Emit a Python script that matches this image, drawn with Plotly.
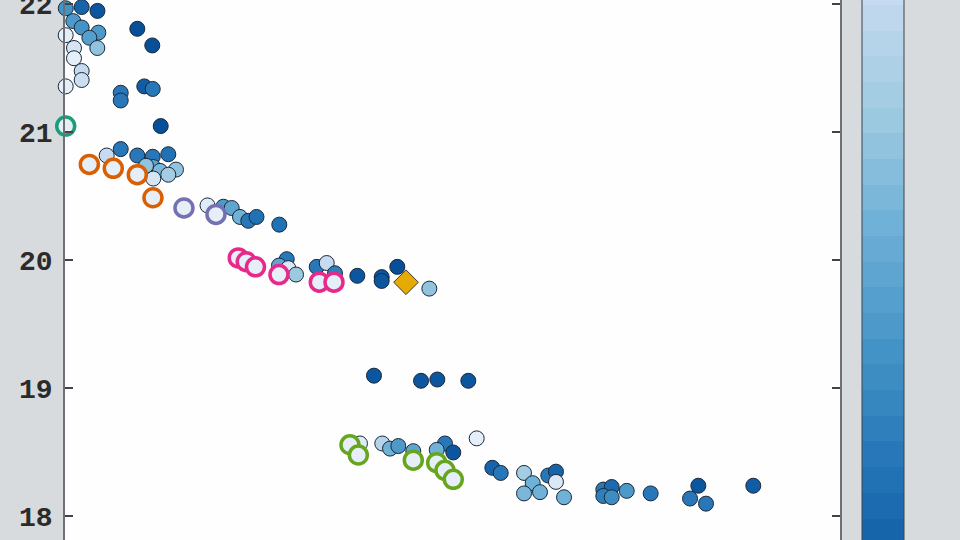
import plotly.graph_objects as go
from plotly.colors import sample_colorscale

# ---- data (x: arbitrary horizontal units 0-100, y: value) ----
pts_x = [0.1, 2.15, 4.19, 1.29, 3.23, 1.07, 2.15, 4.30, 3.14, 0.09,
         1.16, 4.17, 1.16, 2.15, 2.15, 0.09, 9.33, 11.26, 7.19, 7.19,
         10.23, 11.32, 12.35, 5.38, 7.19, 9.33, 11.32, 13.33, 11.39, 12.26,
         14.32, 13.33, 11.39, 10.45, 18.39, 20.43, 21.51, 22.58, 23.65, 24.71,
         27.65, 28.61, 27.61, 28.81, 29.81, 32.48, 33.77, 34.84, 37.72, 40.86,
         40.86, 42.88, 47.01, 39.87, 45.94, 48.04, 52.04, 53.12, 38.06, 40.94,
         41.94, 43.01, 44.94, 49.03, 50.10, 47.96, 55.14, 56.22, 59.23, 60.35,
         59.23, 61.29, 62.36, 63.35, 63.35, 64.39, 69.46, 70.54, 69.46, 70.54,
         72.48, 75.57, 81.72, 80.65, 82.71, 88.81, 63.35, 70.54, 72.48, 79.57]
pts_y = [21.97, 21.98, 21.95, 22.06, 22.07, 21.87, 21.82, 21.78, 21.74, 21.76,
         21.66, 21.66, 21.58, 21.48, 21.41, 21.36, 21.81, 21.68, 21.31, 21.25,
         21.36, 21.34, 21.05, 20.82, 20.87, 20.82, 20.81, 20.83, 20.73, 20.70,
         20.71, 20.67, 20.64, 20.74, 20.43, 20.42, 20.41, 20.34, 20.31, 20.34,
         20.28, 20.01, 19.96, 19.94, 19.89, 19.95, 19.98, 19.90, 19.88, 19.87,
         19.84, 19.95, 19.78, 19.10, 19.06, 19.07, 19.06, 18.61, 18.57, 18.57,
         18.53, 18.55, 18.51, 18.57, 18.50, 18.52, 18.38, 18.34, 18.34, 18.26,
         18.18, 18.19, 18.32, 18.35, 18.27, 18.15, 18.21, 18.23, 18.16, 18.15,
         18.20, 18.18, 18.24, 18.14, 18.10, 18.24, 17.75, 17.75, 17.77, 17.74]
# colour value (high = light)
pts_v = [0.39, 0.21, 0.14, 0.21, 0.14, 0.40, 0.37, 0.40, 0.43, 0.90,
         0.82, 0.60, 0.90, 0.75, 0.78, 0.92, 0.11, 0.11, 0.28, 0.28,
         0.16, 0.28, 0.11, 0.75, 0.28, 0.27, 0.27, 0.24, 0.47, 0.55,
         0.60, 0.65, 0.83, 0.60, 0.88, 0.40, 0.45, 0.50, 0.28, 0.26,
         0.24, 0.27, 0.45, 0.85, 0.62, 0.28, 0.75, 0.30, 0.14, 0.14,
         0.14, 0.11, 0.58, 0.14, 0.14, 0.14, 0.14, 0.90, 0.88, 0.70,
         0.50, 0.40, 0.45, 0.28, 0.14, 0.50, 0.20, 0.27, 0.65, 0.50,
         0.55, 0.50, 0.28, 0.21, 0.85, 0.50, 0.27, 0.23, 0.30, 0.36,
         0.40, 0.27, 0.14, 0.28, 0.28, 0.18, 0.85, 0.40, 0.45, 0.30]

groups = ["A", "B", "C", "D", "E"]
group_colors = ["#1b9e77", "#d95f02", "#7570b3", "#e7298a", "#66a61e"]
ring_x = [[0.09],
          [3.14, 6.23, 9.33, 11.35],
          [15.35, 19.48],
          [22.36, 23.39, 24.58, 27.61, 32.81, 34.71],
          [36.77, 37.85, 44.94, 47.96, 49.03, 50.10]]
ring_y = [[21.05],
          [20.75, 20.72, 20.67, 20.49],
          [20.41, 20.36],
          [20.02, 19.99, 19.95, 19.89, 19.83, 19.83],
          [18.56, 18.48, 18.44, 18.42, 18.36, 18.29]]
star_x = [44.0]
star_y = [19.83]

y_ticks = [18, 19, 20, 21, 22]

# ---- stepped colour scale ----
N = 38
cols = sample_colorscale("Blues", [1 - (i + 0.5) / N for i in range(N)])
cscale = []
for i, c in enumerate(cols):
    cscale.append([i / N, c])
    cscale.append([(i + 1) / N, c])

fig = go.Figure()
fig.add_trace(go.Scatter(
    x=pts_x, y=pts_y, mode="markers", cliponaxis=False, showlegend=False,
    marker=dict(size=15, color=pts_v, cmin=0, cmax=1, colorscale=cscale,
                line=dict(color="#1b2838", width=1),
                colorbar=dict(thickness=42, thicknessmode="pixels",
                              len=976, lenmode="pixels",
                              x=1.0284, xanchor="left", xpad=0,
                              y=0.5622, yanchor="middle", ypad=0,
                              outlinecolor="#3a4450", outlinewidth=1,
                              showticklabels=False, ticks="")),
))
for g, col, xs, ys in zip(groups, group_colors, ring_x, ring_y):
    fig.add_trace(go.Scatter(
        x=xs, y=ys, mode="markers", name=g, cliponaxis=False, showlegend=False,
        marker=dict(size=18, color="#e6eef8", line=dict(color=col, width=3.5)),
    ))
fig.add_trace(go.Scatter(
    x=star_x, y=star_y, mode="markers", cliponaxis=False, showlegend=False,
    marker=dict(symbol="diamond", size=19, color="#e6ab02",
                line=dict(color="#3a3a3a", width=1)),
))

fig.update_layout(
    width=960, height=540,
    margin=dict(l=65, r=120, t=0, b=0, autoexpand=False),
    paper_bgcolor="#d7dbde", plot_bgcolor="#fefefe",
    showlegend=False,
    xaxis=dict(range=[0, 100], showticklabels=False, showgrid=False,
               zeroline=False, showline=False, ticks=""),
    yaxis=dict(range=[17.816, 22.035], autorange=False,
               tickvals=y_ticks, ticktext=[str(t) for t in y_ticks],
               ticks="inside", ticklen=8, tickwidth=1.5, tickcolor="#444",
               showline=True, linecolor="#6e7078", linewidth=1.5,
               mirror="ticks", showgrid=False, zeroline=False,
               ticklabelstandoff=5, ticklabeloverflow="allow",
               tickfont=dict(family="Liberation Mono", size=28, color="#2b2b2b",
                             weight="bold")),
)

fig.write_html(
    "out.html",
    config={"displayModeBar": False},
    post_script="document.body.style.margin='0';document.body.style.overflow='hidden';",
)
